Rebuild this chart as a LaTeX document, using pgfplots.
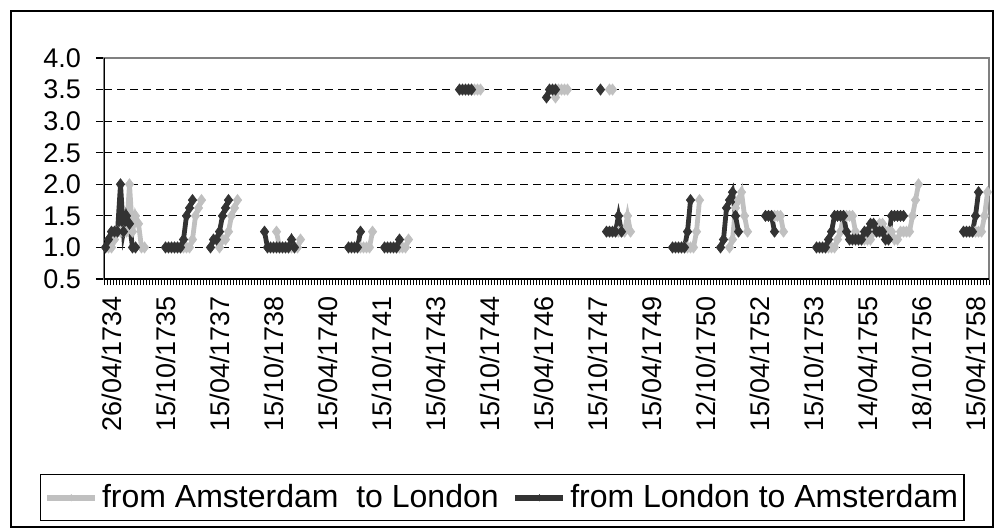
\documentclass[border=0pt]{standalone}
\usepackage{pgfplots}
\usepackage{pgfplotstable}
\pgfplotsset{compat=1.18}
\usepackage{fontspec}
\setmainfont{Liberation Sans}
\definecolor{dk}{RGB}{51,51,51}
\definecolor{lg}{RGB}{192,192,192}
\definecolor{bord}{RGB}{128,128,128}

\pgfplotstableread{
x y
0 1.0
1 1.125
2 1.25
3 1.25
4 1.25
5 2.0
6 1.25
7 1.5
8 1.375
9 1.0
10 1.0
11 nan
20 1.0
21 1.0
22 1.0
23 1.0
24 1.0
25 1.0
26 1.125
27 1.5
28 1.625
29 1.75
30 nan
35 1.0
36 1.125
37 1.125
38 1.25
39 1.5
40 1.625
41 1.75
42 nan
53 1.25
54 1.0
55 1.0
56 1.0
57 1.0
58 1.0
59 1.0
60 1.0
61 1.0
62 1.125
63 1.0
64 nan
81 1.0
82 1.0
83 1.0
84 1.0
85 1.25
86 nan
93 1.0
94 1.0
95 1.0
96 1.0
97 1.0
98 1.125
99 nan
118 3.5
119 3.5
120 3.5
121 3.5
122 3.5
123 nan
147 3.375
148 3.5
149 3.5
150 3.5
151 nan
165 3.5
166 nan
167 1.25
168 1.25
169 1.25
170 1.25
171 1.5
172 1.25
173 nan
189 1.0
190 1.0
191 1.0
192 1.0
193 1.0
194 1.25
195 1.75
196 nan
205 1.0
206 1.125
207 1.625
208 1.75
209 1.875
210 1.5
211 1.25
212 nan
220 1.5
221 1.5
222 1.5
223 1.25
224 nan
237 1.0
238 1.0
239 1.0
240 1.0
241 1.125
242 1.25
243 1.5
244 1.5
245 1.5
246 1.5
247 1.25
248 1.125
249 1.125
250 1.125
251 1.125
252 1.125
253 1.25
254 1.25
255 1.375
256 1.375
257 1.25
258 1.25
259 1.25
260 1.125
261 1.125
262 1.5
263 1.5
264 1.5
265 1.5
266 1.5
267 nan
286 1.25
287 1.25
288 1.25
289 1.25
290 1.5
291 1.875
}\londam

\pgfplotstableread{
x y
1 1.0
2 1.0
3 1.125
4 1.25
5 1.25
6 1.25
7 1.25
8 2.0
9 1.25
10 1.5
11 1.375
12 1.0
13 1.0
14 nan
23 1.0
24 1.0
25 1.0
26 1.0
27 1.0
28 1.0
29 1.125
30 1.5
31 1.625
32 1.75
33 nan
38 1.0
39 1.125
40 1.125
41 1.25
42 1.5
43 1.625
44 1.75
45 nan
57 1.25
58 1.0
59 1.0
60 1.0
61 1.0
62 1.0
63 1.0
64 1.0
65 1.125
66 nan
85 1.0
86 1.0
87 1.0
88 1.0
89 1.25
90 nan
97 1.0
98 1.0
99 1.0
100 1.0
101 1.125
102 nan
121 3.5
122 3.5
123 3.5
124 3.5
125 3.5
126 nan
150 3.375
151 3.5
152 3.5
153 3.5
154 3.5
155 nan
168 3.5
169 3.5
170 nan
171 1.25
172 1.25
173 1.25
174 1.5
175 1.25
176 nan
192 1.0
193 1.0
194 1.0
195 1.0
196 1.0
197 1.25
198 1.75
199 nan
208 1.0
209 1.125
210 1.625
211 1.75
212 1.875
213 1.5
214 1.25
215 nan
223 1.5
224 1.5
225 1.5
226 1.25
227 nan
240 1.0
241 1.0
242 1.0
243 1.0
244 1.125
245 1.25
246 1.5
247 1.5
248 1.5
249 1.5
250 1.25
251 1.125
252 1.125
253 1.125
254 1.125
255 1.125
256 1.25
257 1.25
258 1.375
259 1.375
260 1.25
261 1.25
262 1.25
263 1.125
264 1.125
265 1.25
266 1.25
267 1.25
268 1.25
269 1.5
270 1.75
271 2.0
272 nan
289 1.25
290 1.25
291 1.25
292 1.25
293 1.5
294 1.875
}\amslon

\begin{document}
\begin{tikzpicture}
\path[use as bounding box] (0,0) rectangle (497.5pt,-264.5pt);
\draw[line width=0.6pt] (5.5pt,-5.5pt) rectangle (496.5pt,-263.5pt);
\begin{axis}[
  at={(52pt,-139.5pt)}, anchor=south west,
  scale only axis, width=442.5pt, height=110.5pt,
  xmin=-0.5, xmax=294.5, ymin=0.5, ymax=4,
  unbounded coords=jump,
  axis line style={draw=bord, line width=0.6pt},
  ytick={0.5,1,...,4},
  yticklabel={\pgfmathprintnumber[fixed,fixed zerofill,precision=1,assume math mode=true]{\tick}},
  yticklabel style={xshift=-4pt},
  ytick pos=left,
  ytick align=center,
  xtick align=outside,
  major tick length=8pt,
  minor tick length=3pt,
  xtick={0,18,...,288},
  xticklabels={26/04/1734,15/10/1735,15/04/1737,15/10/1738,15/04/1740,15/10/1741,15/04/1743,15/10/1744,15/04/1746,15/10/1747,15/04/1749,12/10/1750,15/04/1752,15/10/1753,14/04/1755,18/10/1756,15/04/1758},
  minor xtick={-0.5,0.5,...,294.5},
  xtick pos=bottom,
  major x tick style={draw=none},
  minor x tick style={line width=0.5pt, black},
  y tick style={line width=0.6pt, black},
  xticklabel style={xshift=3pt, yshift=3pt, rotate=90, anchor=east},
  tick label style={font=\fontsize{13.5}{16}\selectfont},
  ymajorgrids,
  major grid style={black, line width=0.5pt, dash pattern=on 4pt off 2.5pt},
  legend columns=2,
  legend style={at={(0.450,-0.99)}, anchor=center, draw=black, line width=0.6pt,
    font=\fontsize{16}{19}\selectfont, inner xsep=2pt, inner ysep=3pt,
    nodes={inner xsep=1pt},
    /tikz/every odd column/.append style={column sep=1pt},
    /tikz/every even column/.append style={column sep=6pt}},
  legend image code/.code={
    \draw[#1, line width=2.8pt, mark=none] (0pt,0pt) -- (24pt,0pt);
    \draw[#1, line width=0.5pt, mark=diamond*, mark size=1.6pt] plot coordinates {(12pt,0pt)};
  },
]
\addplot[lg, line width=2.4pt, mark=diamond*, mark size=2.8pt, mark options={solid, fill=lg, draw=lg, line width=0.3pt}] table[x=x, y=y] {\amslon};
\addlegendentry{from Amsterdam\ \ to London}
\addplot[dk, line width=2.4pt, mark=diamond*, mark size=2.8pt, mark options={solid, fill=dk, draw=dk, line width=0.3pt}] table[x=x, y=y] {\londam};
\addlegendentry{from London to Amsterdam}
\draw[black, line width=0.7pt] (rel axis cs:0,1) -- (rel axis cs:0,0) -- (rel axis cs:1,0);
\end{axis}
\end{tikzpicture}
\end{document}
